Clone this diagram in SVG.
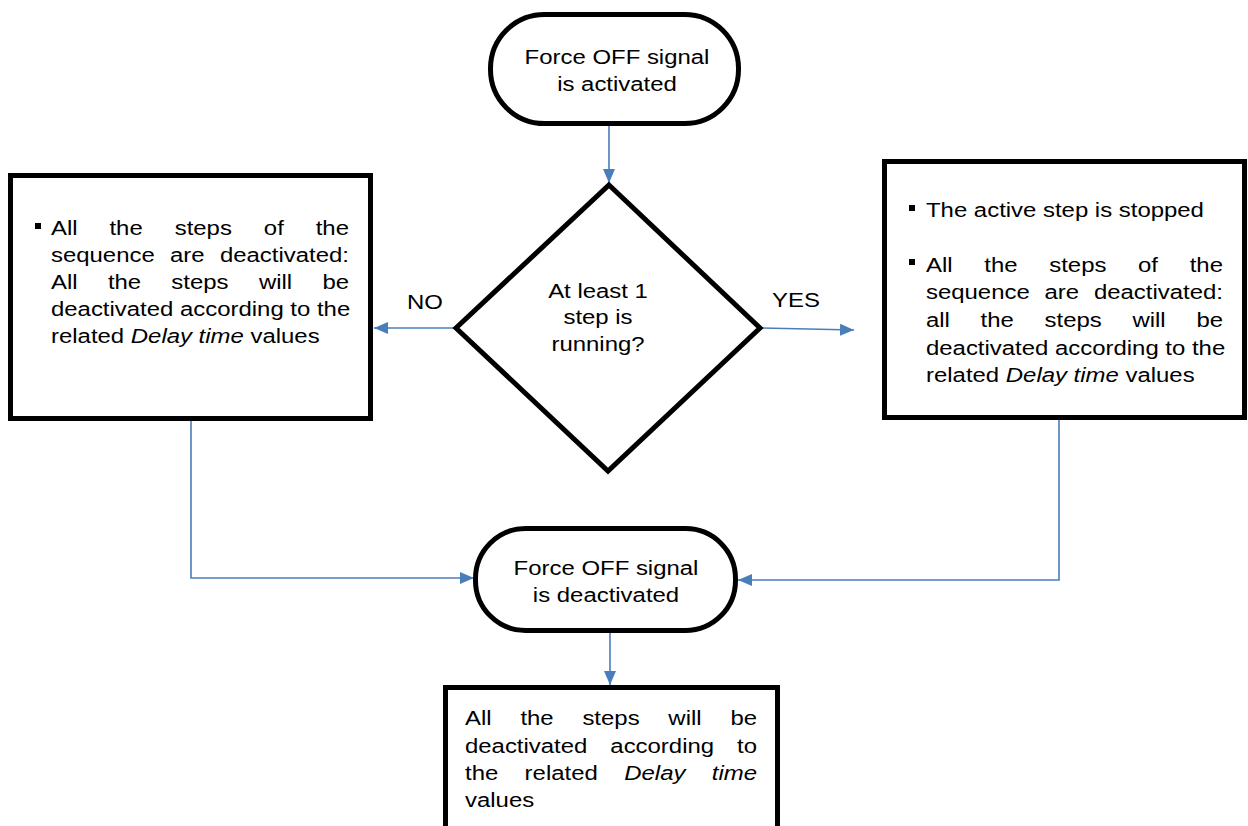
<svg xmlns="http://www.w3.org/2000/svg" width="1248" height="826" viewBox="0 0 1248 826">
<style>
.node{fill:#fff;stroke:#000;stroke-width:5}
.t{font-family:"Liberation Sans",Arial,sans-serif;font-size:21px;fill:#000}
.c{text-anchor:middle}
.i{font-style:italic}
.conn{fill:none;stroke:#4a7ebb;stroke-width:1.6}
.bul{fill:#000}
</style>
<defs>
<marker id="ah" markerUnits="userSpaceOnUse" markerWidth="14" markerHeight="12" refX="14" refY="6" orient="auto">
<path d="M0,0 L14,6 L0,12 Z" fill="#4a7ebb"/>
</marker>
</defs>
<rect width="1248" height="826" fill="#fff"/>
<g id="connectors">
<path class="conn" d="M609,126 V183" marker-end="url(#ah)"/>
<path class="conn" d="M454,328 H374" marker-end="url(#ah)"/>
<path class="conn" d="M762,328 L854,330" marker-end="url(#ah)"/>
<path class="conn" d="M191,421 V578 H474" marker-end="url(#ah)"/>
<path class="conn" d="M1059,420 V580 H738" marker-end="url(#ah)"/>
<path class="conn" d="M610,633 V685" marker-end="url(#ah)"/>
</g>
<g id="start">
<rect class="node" x="490.5" y="14.5" width="248" height="109" rx="54"/>
<text class="t c" transform="translate(617,64) scale(1.14,1)">Force OFF signal</text>
<text class="t c" transform="translate(617,91) scale(1.14,1)">is activated</text>
</g>
<g id="decision">
<polygon class="node" points="609,185 760,328 608,471 456,328"/>
<text class="t c" transform="translate(598,298) scale(1.14,1)">At least 1</text>
<text class="t c" transform="translate(598,324) scale(1.14,1)">step is</text>
<text class="t c" transform="translate(598,351) scale(1.14,1)">running?</text>
</g>
<g id="label-no"><text class="t c" transform="translate(425,309) scale(1.14,1)">NO</text></g>
<g id="label-yes"><text class="t c" transform="translate(796,307) scale(1.14,1)">YES</text></g>
<g id="no-box">
<rect class="node" x="10.5" y="175.5" width="360" height="243"/>
<rect class="bul" x="35" y="223" width="6" height="6"/>
<text class="t" transform="translate(51,235) scale(1.14,1)"><tspan x="0">All</tspan><tspan x="51.3">the</tspan><tspan x="108.5">steps</tspan><tspan x="186.7">of</tspan><tspan x="232.2">the</tspan></text>
<text class="t" transform="translate(51,262) scale(1.14,1)"><tspan x="0">sequence</tspan><tspan x="104.4">are</tspan><tspan x="148.2">deactivated:</tspan></text>
<text class="t" transform="translate(51,289) scale(1.14,1)"><tspan x="0">All</tspan><tspan x="49.9">the</tspan><tspan x="105.6">steps</tspan><tspan x="182.4">will</tspan><tspan x="238.1">be</tspan></text>
<text class="t" transform="translate(51,316) scale(1.14,1)">deactivated according to the</text>
<text class="t" transform="translate(51,343) scale(1.14,1)">related <tspan class="i">Delay time</tspan> values</text>
</g>
<g id="yes-box">
<rect class="node" x="884.5" y="161.5" width="360" height="256"/>
<rect class="bul" x="909" y="205" width="6" height="6"/>
<text class="t" transform="translate(926,217) scale(1.14,1)">The active step is stopped</text>
<rect class="bul" x="909" y="259" width="6" height="6"/>
<text class="t" transform="translate(926,272) scale(1.14,1)"><tspan x="0">All</tspan><tspan x="51.1">the</tspan><tspan x="108.1">steps</tspan><tspan x="186">of</tspan><tspan x="231.3">the</tspan></text>
<text class="t" transform="translate(926,299) scale(1.14,1)"><tspan x="0">sequence</tspan><tspan x="104">are</tspan><tspan x="147.3">deactivated:</tspan></text>
<text class="t" transform="translate(926,327) scale(1.14,1)"><tspan x="0">all</tspan><tspan x="47.9">the</tspan><tspan x="104">steps</tspan><tspan x="181.1">will</tspan><tspan x="237.2">be</tspan></text>
<text class="t" transform="translate(926,355) scale(1.14,1)">deactivated according to the</text>
<text class="t" transform="translate(926,382) scale(1.14,1)">related <tspan class="i">Delay time</tspan> values</text>
</g>
<g id="end">
<rect class="node" x="475.5" y="528.5" width="260" height="102" rx="50"/>
<text class="t c" transform="translate(606,575) scale(1.14,1)">Force OFF signal</text>
<text class="t c" transform="translate(606,602) scale(1.14,1)">is deactivated</text>
</g>
<g id="final-box">
<rect class="node" x="445.5" y="687.5" width="332" height="160"/>
<text class="t" transform="translate(465,725) scale(1.14,1)"><tspan x="0">All</tspan><tspan x="48.6">the</tspan><tspan x="103">steps</tspan><tspan x="178.4">will</tspan><tspan x="232.8">be</tspan></text>
<text class="t" transform="translate(465,753) scale(1.14,1)"><tspan x="0">deactivated</tspan><tspan x="127.5">according</tspan><tspan x="238.6">to</tspan></text>
<text class="t" transform="translate(465,780) scale(1.14,1)"><tspan x="0">the</tspan><tspan x="52.3">related</tspan><tspan x="139.7" class="i">Delay</tspan><tspan x="216.5" class="i">time</tspan></text>
<text class="t" transform="translate(465,807) scale(1.14,1)">values</text>
</g>
</svg>
